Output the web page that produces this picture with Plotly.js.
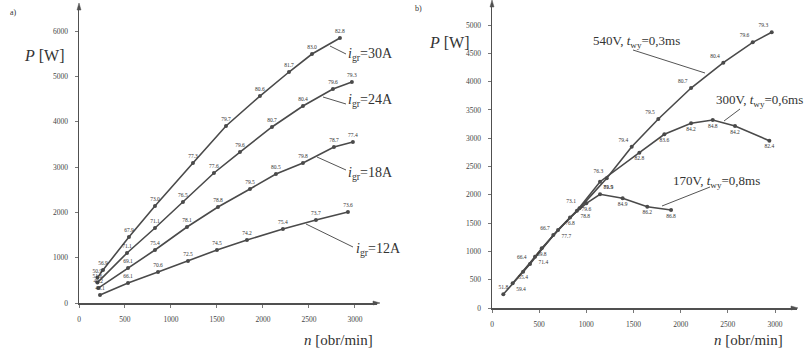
<!DOCTYPE html>
<html>
<head>
<meta charset="utf-8">
<script src="https://cdn.plot.ly/plotly-3.0.1.min.js"></script>
<style>html,body{margin:0;padding:0;background:#fff;}#chart{width:804px;height:349px;}</style>
</head>
<body>
<div id="chart"></div>
<script>
// ---- Panel a) : P = f(n) for different limit currents i_gr ----
const n30 = [200, 261, 543, 826, 1239, 1598, 1967, 2283, 2533, 2837];
const P30 = [560, 728, 1456, 2140, 3088, 3905, 4566, 5096, 5493, 5846];
const eta30 = ["50.9", "56.9", "67.9", "73.0", "77.3", "79.7", "80.6", "81.7", "83.0", "82.8"];

const n24 = [200, 522, 826, 1130, 1467, 1750, 2098, 2435, 2761, 2967];
const P24 = [450, 1103, 1655, 2228, 2868, 3331, 3883, 4346, 4721, 4875];
const eta24 = ["51.6", "71.1", "71.1", "76.5", "77.6", "79.6", "80.7", "80.4", "79.6", "79.3"];

const n18 = [210, 533, 826, 1174, 1511, 1859, 2141, 2435, 2772, 2978];
const P18 = [330, 772, 1169, 1677, 2118, 2515, 2846, 3088, 3441, 3552];
const eta18 = ["49.2", "69.1", "75.4", "78.1", "78.8", "79.5", "80.5", "79.8", "78.7", "77.4"];

const n12 = [228, 533, 859, 1185, 1500, 1826, 2217, 2576, 2924];
const P12 = [176, 441, 684, 927, 1169, 1390, 1632, 1831, 2007];
const eta12 = ["43.1", "66.1", "70.6", "72.5", "74.5", "74.2", "75.4", "73.7", "73.6"];

// ---- Panel b) : P = f(n) for different supply voltages ----
const n540 = [120, 403, 650, 927, 1216, 1481, 1763, 2110, 2452, 2764, 2965];
const P540 = [242, 777, 1290, 1761, 2292, 2850, 3339, 3887, 4334, 4694, 4871];
const eta540 = ["51.8", "66.4", "66.7", "73.1", "76.3", "79.4", "79.5", "80.7", "80.4", "79.6", "79.3"];

const n300 = [219, 456, 700, 900, 1145, 1562, 1827, 2110, 2340, 2576, 2940];
const P300 = [436, 906, 1380, 1720, 2231, 2744, 3069, 3263, 3322, 3216, 2956];
const eta300 = ["59.4", "71.4", "77.7", "78.8", "79.9", "82.8", "83.6", "84.2", "84.8", "84.2", "82.4"];

const n170 = [330, 527, 827, 1000, 1145, 1385, 1646, 1898];
const P170 = [640, 1055, 1600, 1850, 2009, 1938, 1790, 1731];
const eta170 = ["55.4", "69.8", "76.8", "79.6", "81.5", "84.9", "86.2", "86.8"];

const xTicksA = [0, 500, 1000, 1500, 2000, 2500, 3000];
const yTicksA = [0, 1000, 2000, 3000, 4000, 5000, 6000];
const xTicksB = [0, 500, 1000, 1500, 2000, 2500, 3000];
const yTicksB = [0, 500, 1000, 1500, 2000, 2500, 3000, 3500, 4000, 4500, 5000];

const W = 804, H = 349;
const FONT = "Liberation Serif";
const LC = "#4a4a4a";
const TC = "#333333";

function series(x, y, t, xa, ya, pos) {
  return {
    x: x, y: y, text: t, xaxis: xa, yaxis: ya,
    type: "scatter", mode: "lines+markers+text",
    line: {color: LC, width: 1.6},
    marker: {color: LC, size: 4},
    textposition: pos,
    textfont: {family: FONT, size: 5.5, color: TC},
    hoverinfo: "skip", showlegend: false, cliponaxis: false
  };
}

const tpA = "top center";
const pos540 = eta540.map((v, i) => i === 0 ? "top center" : "top left");
const pos300 = eta300.map((v, i) => i < 5 ? "bottom right" : "bottom center");
const pos170 = eta170.map((v, i) => i === 4 ? "top right" : "bottom center");

const data = [
  series(n30, P30, eta30, "x", "y", tpA),
  series(n24, P24, eta24, "x", "y", tpA),
  series(n18, P18, eta18, "x", "y", tpA),
  series(n12, P12, eta12, "x", "y", tpA),
  series(n540, P540, eta540, "x2", "y2", pos540),
  series(n300, P300, eta300, "x2", "y2", pos300),
  series(n170, P170, eta170, "x2", "y2", pos170)
];

function px(x) { return x / W; }
function py(y) { return 1 - y / H; }

const axisCommon = {
  showline: true, linecolor: "#505050", linewidth: 1.5,
  showgrid: false, zeroline: false,
  ticks: "outside", ticklen: 3, tickcolor: "#777", tickwidth: 1,
  tickfont: {family: FONT, size: 7.5, color: "#444"},
  ticklabelstandoff: 5, fixedrange: true
};

const layout = {
  width: W, height: H, autosize: false,
  margin: {l: 0, r: 0, t: 0, b: 0},
  paper_bgcolor: "#ffffff", plot_bgcolor: "rgba(0,0,0,0)",
  showlegend: false,
  font: {family: FONT},
  xaxis: Object.assign({}, axisCommon, {
    domain: [px(79), px(377)], range: [0, 3240], anchor: "y",
    tickvals: xTicksA, ticktext: xTicksA.map(String)
  }),
  yaxis: Object.assign({}, axisCommon, {
    domain: [py(303), py(7)], range: [0, 6530], anchor: "x",
    tickvals: yTicksA, ticktext: yTicksA.map(String)
  }),
  xaxis2: Object.assign({}, axisCommon, {
    domain: [px(492), px(797)], range: [0, 3233], anchor: "y2",
    tickvals: xTicksB, ticktext: xTicksB.map(String)
  }),
  yaxis2: Object.assign({}, axisCommon, {
    domain: [py(308), py(3)], range: [0, 5389], anchor: "x2",
    tickvals: yTicksB, ticktext: yTicksB.map(String)
  }),
  annotations: [],
  shapes: []
};

function label(x, y, text, size, anchor) {
  layout.annotations.push({
    xref: "paper", yref: "paper", x: px(x), y: py(y),
    text: text, showarrow: false, xanchor: anchor || "left", yanchor: "middle",
    font: {family: FONT, size: size, color: TC}
  });
}
function leader(x0, y0, x1, y1) {
  layout.shapes.push({
    type: "line", xref: "paper", yref: "paper",
    x0: px(x0), y0: py(y0), x1: px(x1), y1: py(y1),
    line: {color: "#555", width: 1}
  });
}
function tri(pts) {
  const d = "M" + pts.map(p => px(p[0]) + "," + py(p[1])).join(" L") + " Z";
  layout.shapes.push({
    type: "path", xref: "paper", yref: "paper", path: d,
    fillcolor: "#505050", line: {color: "#505050", width: 0.5}
  });
}

// panel letters
label(8, 12, "a)", 8);
label(413, 9, "b)", 8);

// axis titles
label(22, 55, "<i>P</i> [W]", 16);
label(427, 43, "<i>P</i> [W]", 16);
label(302, 340, "<i>n</i> [obr/min]", 15);
label(712, 340, "<i>n</i> [obr/min]", 15);

// curve labels panel a
label(346, 54, "<i>i</i><sub>gr</sub>=30A", 14);
label(346, 100, "<i>i</i><sub>gr</sub>=24A", 14);
label(346, 173, "<i>i</i><sub>gr</sub>=18A", 14);
label(354, 249, "<i>i</i><sub>gr</sub>=12A", 14);
leader(330, 46, 346, 54);
leader(323, 97, 346, 104);
leader(317, 157, 346, 170);
leader(306, 224, 353, 247);

// curve labels panel b
label(591, 42, "540V, <i>t</i><sub>wy</sub>=0,3ms", 13);
label(714, 101, "300V, <i>t</i><sub>wy</sub>=0,6ms", 13);
label(671, 181, "170V, <i>t</i><sub>wy</sub>=0,8ms", 13);
leader(633, 50, 705, 73);
leader(740, 109, 724, 121);
leader(710, 187, 662, 206);

// axis arrow heads
tri([[373, 301], [380, 303], [373, 305]]);
tri([[791, 306], [798, 308], [791, 310]]);
tri([[77, 10], [79, 3], [81, 10]]);
tri([[490, 7], [492, 0], [494, 7]]);

Plotly.newPlot("chart", data, layout, {staticPlot: true, displayModeBar: false});
</script>
</body>
</html>
